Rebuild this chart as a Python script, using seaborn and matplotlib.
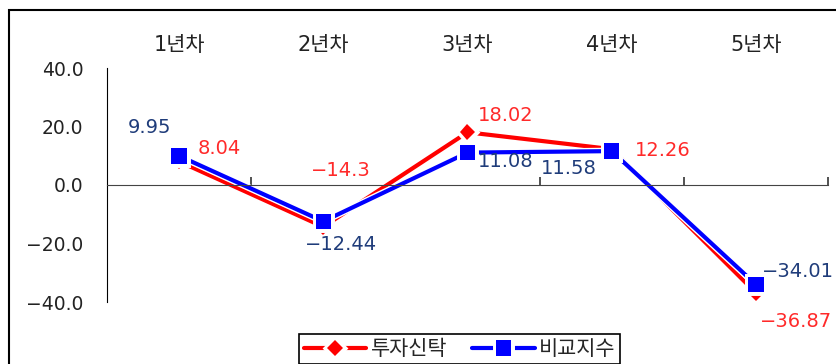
import matplotlib
matplotlib.use("Agg")
import matplotlib.pyplot as plt
import matplotlib.patheffects as pe
from matplotlib.patches import Rectangle
from matplotlib.ticker import FixedLocator, FuncFormatter
import seaborn as sns

categories = ["1년차", "2년차", "3년차", "4년차", "5년차"]
fund = [8.04, -14.3, 18.02, 12.26, -36.87]
index = [9.95, -12.44, 11.08, 11.58, -34.01]
fund_name = "투자신탁"
index_name = "비교지수"
y_ticks = [-40, -20, 0, 20, 40]

# label offsets in pixels (dx, dy)
fund_offsets = [(40, 13), (18, 56), (38, 17), (51, -1), (40, -29)]
index_offsets = [(-30, 28), (18, -23), (38, -9), (-43, -17), (42, 13)]

sns.set_style("white")
fonts = ["DejaVu Sans", "Noto Sans CJK KR"]
plt.rcParams["font.family"] = fonts

fig = plt.figure(figsize=(8.37, 3.64), dpi=100)
ax = fig.add_axes([107 / 837, 1 - 302 / 364, 721 / 837, 234 / 364])

outline = [pe.Stroke(linewidth=5, foreground="white"), pe.Normal()]
sns.lineplot(x=categories, y=fund, color="#ff0000", marker="D", markersize=8,
             linewidth=3, label=fund_name, ax=ax, path_effects=outline,
             markeredgewidth=0)
sns.lineplot(x=categories, y=index, color="#0000ff", marker="s", markersize=11,
             linewidth=3, label=index_name, ax=ax, path_effects=outline,
             markeredgewidth=0)

def fmt(v):
    return f"{v:g}".replace("-", "\u2212")

for i, (v, off) in enumerate(zip(fund, fund_offsets)):
    ax.annotate(fmt(v), (i, v), xytext=off, textcoords="offset pixels",
                ha="center", va="center", color="#ff2a2a", fontsize=14,
                annotation_clip=False)
for i, (v, off) in enumerate(zip(index, index_offsets)):
    ax.annotate(fmt(v), (i, v), xytext=off, textcoords="offset pixels",
                ha="center", va="center", color="#1f3c7a", fontsize=14,
                annotation_clip=False)

ax.set_xlim(-0.5, len(categories) - 0.5)
ax.set_ylim(-40, 40)
ax.set_yticks(y_ticks)
ax.yaxis.set_major_formatter(FuncFormatter(lambda v, p: f"{v:.1f}".replace("-", "\u2212")))
ax.tick_params(axis="y", direction="in", length=6, width=1.5, colors="black",
               labelcolor="#222222", labelsize=13.5, pad=17)

ax.spines["bottom"].set_position(("data", 0))
ax.spines["bottom"].set_color("#444444")
ax.spines["top"].set_visible(False)
ax.spines["right"].set_visible(False)
ax.spines["left"].set_color("black")
ax.xaxis.set_minor_locator(FixedLocator([i + 0.5 for i in range(len(categories))]))
ax.tick_params(axis="x", which="major", bottom=False, top=False,
               labelbottom=False, labeltop=True, labelsize=15,
               labelcolor="#222222", pad=6)
ax.tick_params(axis="x", which="minor", direction="in", length=6, width=1.2,
               colors="#333333", bottom=True)
ax.set_xlabel("")
ax.set_ylabel("")

ax.legend(loc="upper center", bbox_to_anchor=(459.5 / 837, 1 - 334 / 364),
          bbox_transform=fig.transFigure, ncol=2, fontsize=15,
          frameon=True, fancybox=False, edgecolor="black", framealpha=1,
          handlelength=3.0, handletextpad=0.2, columnspacing=1.2,
          borderpad=0.25, borderaxespad=0)
ax.get_legend().get_frame().set_linewidth(1.2)

fig.patches.append(Rectangle((9 / 837, -0.2), 1.2, 1 - 10 / 364 + 0.2,
                             transform=fig.transFigure, fill=False,
                             edgecolor="black", linewidth=1.5))

fig.savefig("out.png", dpi=100)
